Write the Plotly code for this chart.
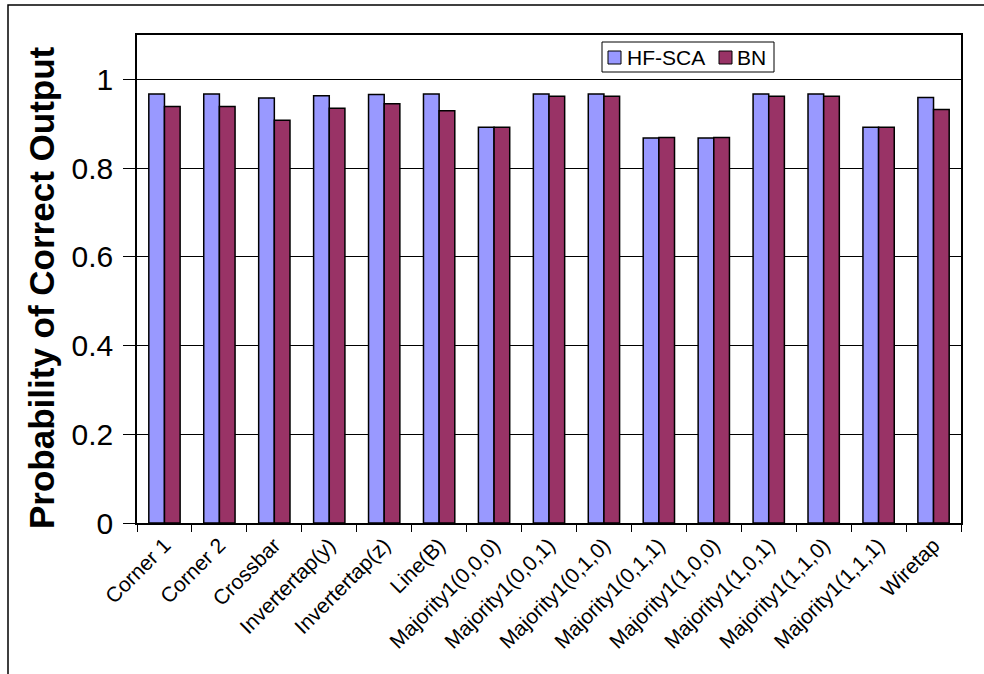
import plotly.graph_objects as go

categories = ["Corner 1", "Corner 2", "Crossbar", "Invertertap(y)", "Invertertap(z)", "Line(B)",
              "Majority1(0,0,0)", "Majority1(0,0,1)", "Majority1(0,1,0)", "Majority1(0,1,1)",
              "Majority1(1,0,0)", "Majority1(1,0,1)", "Majority1(1,1,0)", "Majority1(1,1,1)", "Wiretap"]
hf_sca = [0.967, 0.967, 0.958, 0.963, 0.966, 0.967, 0.892, 0.967, 0.967, 0.868,
          0.868, 0.967, 0.967, 0.892, 0.959]
bn = [0.939, 0.939, 0.908, 0.935, 0.945, 0.929, 0.892, 0.962, 0.962, 0.869,
      0.869, 0.962, 0.962, 0.892, 0.932]
series_names = ["HF-SCA", "BN"]
series_colors = ["#9999FF", "#993366"]
y_ticks = [0, 0.2, 0.4, 0.6, 0.8, 1]
y_ticklabels = ["0", "0.2", "0.4", "0.6", "0.8", "1"]
y_title = "Probability of Correct Output"

FONT = "Liberation Sans, Arial, sans-serif"

# plot area in page pixels
L, R, T, B = 137, 961, 35, 523
W, H = R - L, B - T


def px(x):
    return (x - L) / W


def py(y):
    return (B - y) / H


fig = go.Figure()
for name, vals, col in zip(series_names, [hf_sca, bn], series_colors):
    fig.add_trace(go.Bar(name=name, x=categories, y=vals, showlegend=False,
                         marker=dict(color=col, line=dict(color="#000000", width=1.5))))

shapes = [
    # outer chart frame
    dict(type="rect", xref="paper", yref="paper",
         x0=px(8), x1=px(995), y0=py(690), y1=py(5),
         line=dict(color="black", width=1.5), fillcolor="rgba(0,0,0,0)", layer="below"),
    # legend box
    dict(type="rect", xref="paper", yref="paper",
         x0=px(602), x1=px(774), y0=py(72), y1=py(42),
         line=dict(color="black", width=1), fillcolor="white", layer="above"),
]
annotations = [
    dict(text="<b>" + y_title + "</b>", xref="paper", yref="paper", x=px(41), y=py(288),
         xanchor="center", yanchor="middle", textangle=-90, showarrow=False,
         font=dict(size=35, family=FONT, color="black")),
]
legend_sq_x = [608, 719]
legend_tx_x = [625, 735]
for name, col, sx, tx in zip(series_names, series_colors, legend_sq_x, legend_tx_x):
    shapes.append(dict(type="rect", xref="paper", yref="paper",
                       x0=px(sx), x1=px(sx + 13), y0=py(64), y1=py(51),
                       line=dict(color="black", width=1), fillcolor=col, layer="above"))
    annotations.append(dict(text=name, xref="paper", yref="paper", x=px(tx), y=py(57.5),
                            xanchor="left", yanchor="middle", showarrow=False,
                            font=dict(size=21, family=FONT, color="black")))

fig.update_layout(
    width=984, height=674,
    margin=dict(l=L, r=984 - R, t=T, b=674 - B),
    paper_bgcolor="white", plot_bgcolor="white",
    barmode="group", bargap=0.43, bargroupgap=0,
    font=dict(family=FONT, color="black"),
    showlegend=False,
    xaxis=dict(type="category", tickangle=-45, tickfont=dict(size=21, family=FONT),
               showline=True, linecolor="black", linewidth=1.5, mirror=True,
               ticks="outside", ticklen=7, tickcolor="black", tickson="boundaries",
               showgrid=False),
    yaxis=dict(range=[0, 1.1], tickvals=y_ticks, ticktext=y_ticklabels,
               tickfont=dict(size=30, family=FONT),
               showline=True, linecolor="black", linewidth=1.5, mirror=True,
               ticks="outside", ticklen=12, tickcolor="black", ticklabelstandoff=4,
               showgrid=True, gridcolor="black", gridwidth=1, zeroline=False),
    shapes=shapes,
    annotations=annotations,
)

fig.write_html("out.html", config={"displayModeBar": False},
               post_script="document.body.style.margin='0';document.body.style.overflow='hidden';")
